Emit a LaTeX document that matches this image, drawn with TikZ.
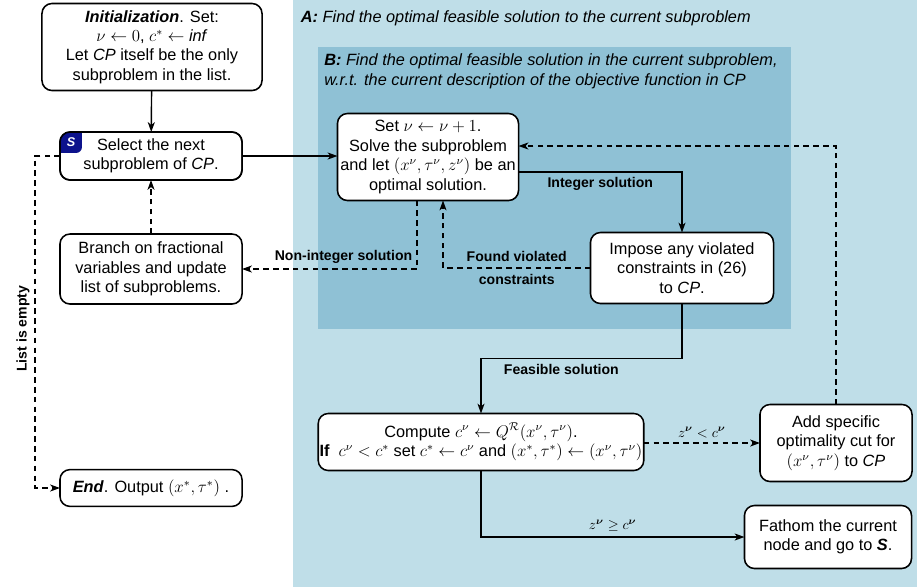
\documentclass[tikz,border=0pt]{standalone}
\usepackage{amsmath}
\usepackage{fontspec}
\setmainfont{Liberation Sans}
\usetikzlibrary{arrows.meta,calc}

\definecolor{regA}{RGB}{191,222,232}
\definecolor{regB}{RGB}{143,193,213}
\definecolor{navyS}{RGB}{12,18,140}

\tikzset{
  box/.style={draw, fill=white, line width=1.1pt, rounded corners=0.25cm,
    align=center, inner sep=1pt, outer sep=0pt,
    font=\fontsize{11.6}{13.8}\selectfont},
  flow/.style={line width=1pt, -{Stealth[length=7pt,width=5pt,inset=2pt]}},
  flowd/.style={flow, dash pattern=on 4pt off 3pt},
  lbl/.style={font=\fontsize{10}{12}\selectfont\bfseries, align=center},
  hdr/.style={font=\fontsize{11.6}{14.2}\selectfont\itshape, align=left}
}

\begin{document}
\begin{tikzpicture}[x=0.025cm,y=-0.025cm]
        \useasboundingbox (0,0) rectangle (917,587);

        % regions A and B
        \fill[regA] (293,0) rectangle (917,587);
        \fill[regB] (318,47) rectangle (791,329);
        \node[hdr, anchor=west] (hdrA) at (296,18) {\textbf{A:} Find the optimal feasible solution to the current subproblem};
        \node[hdr, anchor=north west, inner sep=0pt] (hdrB) at (324,53) {\textbf{B:} Find the optimal feasible solution in the current subproblem,\\
          w.r.t. the current description of the objective function in \textit{CP}};

        % left column
        \node[box, minimum width=5.5cm, minimum height=2.175cm] (init) at (152,47)
          {\textbf{\textit{Initialization}}. Set:\\ $\nu\leftarrow 0$, $c^*\leftarrow$ \textit{inf}\\ Let \textit{CP} itself be the only\\ subproblem in the list.};
        \node[box, minimum width=4.55cm, minimum height=1.2cm] (select) at (151,156)
          {Select the next\\ subproblem of \textit{CP}.};
        \node[box, minimum width=4.55cm, minimum height=1.75cm] (branch) at (151,269)
          {Branch on fractional\\ variables and update\\ list of subproblems.};
        \node[box, minimum width=4.55cm, minimum height=0.92cm] (end) at (151,488)
          {\textbf{\textit{End}}. Output $(x^*,\tau^*)$ .};

        % S badge
        \begin{scope}
          \clip[rounded corners=0.25cm] (select.north west) rectangle (select.south east);
          \fill[navyS] ($(select.north west)+(0,21)$) -- (select.north west) -- ++(22,0)
            [rounded corners=0.15cm] -- ++(0,21) [sharp corners] -- cycle;
        \end{scope}
        \draw[line width=1.1pt, rounded corners=0.25cm] (select.north west) rectangle (select.south east);
        \node[text=white, font=\fontsize{9}{9}\selectfont\bfseries\itshape, inner sep=0pt] (sbadge)
          at ($(select.north west)+(11,10)$) {S};

        % right part
        \node[box, minimum width=4.525cm, minimum height=2.175cm] (solve) at (428,157)
          {Set $\nu\leftarrow\nu+1$.\\ Solve the subproblem\\ and let $(x^\nu,\tau^\nu,z^\nu)$ be an\\ optimal solution.};
        \node[box, minimum width=4.575cm, minimum height=1.775cm] (impose) at (682,268)
          {Impose any violated\\ constraints in (26)\\ to \textit{CP}.};
        \node[box, minimum width=8.125cm, minimum height=1.425cm] (compute) at (481,442)
          {Compute $c^\nu\leftarrow Q^{\mathcal{R}}(x^\nu,\tau^\nu)$.\\
           \textbf{If}\ \ $c^\nu < c^*$ set $c^*\leftarrow c^\nu$ and $(x^*,\tau^*)\leftarrow(x^\nu,\tau^\nu)$};
        \node[box, minimum width=3.8cm, minimum height=1.925cm] (add) at (836,443)
          {Add specific\\ optimality cut for\\ $(x^\nu,\tau^\nu)$ to \textit{CP}};
        \node[box, minimum width=4.175cm, minimum height=1.575cm] (fathom) at (828,537)
          {Fathom the current\\ node and go to \textbf{\textit{S}}.};

        % connectors
        \draw[flow] (init) -- (select);
        \draw[flow] (select) -- (select -| solve.west);
        \draw[flowd] (branch) -- (select);
        \draw[flowd] (select.west) -- ++(-25,0) |- node[lbl, rotate=90, above, pos=0.26] {List is empty} (end.west);
        \draw[flow] ($(solve.east)+(0,15)$) -| node[lbl, below, pos=0.25] {Integer solution} (impose.north);
        \draw[flowd] ($(solve.south)+(-11,0)$) |- node[lbl, above, pos=0.71] {Non-integer solution} (branch.east);
        \draw[flowd] (impose.west) -| node[lbl, pos=0.25] {Found violated\\[4.5pt] constraints} ($(solve.south)+(15,0)$);
        \draw[flow] (impose.south) -- ++(0,55) -| node[lbl, below, pos=0.3] {Feasible solution} (compute.north);
        \draw[flowd] (compute.east |- add) -- node[above, pos=0.5] {$z^{\boldsymbol{\nu}} < c^{\boldsymbol{\nu}}$} (add.west);
        \draw[flowd] (add.north) |- ($(solve.east)+(0,-11)$);
        \draw[flow] (compute.south) |- node[above, pos=0.75] {$z^{\boldsymbol{\nu}} \geq c^{\boldsymbol{\nu}}$} (fathom.west);
\end{tikzpicture}
\end{document}
